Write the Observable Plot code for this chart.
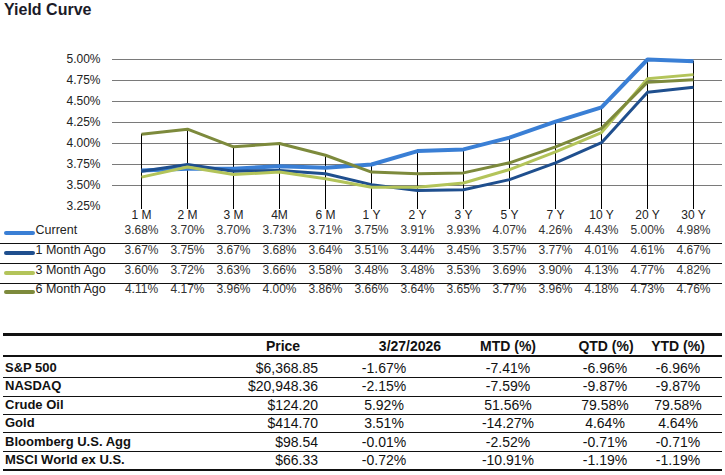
<!DOCTYPE html>
<html>
<head>
<meta charset="utf-8">
<script src="https://cdn.jsdelivr.net/npm/d3@7"></script>
<script src="https://cdn.jsdelivr.net/npm/@observablehq/plot@0.6"></script>
<style>
  html, body { margin: 0; padding: 0; background: #fff; }
  body { width: 725px; height: 475px; position: relative; overflow: hidden; font-family: "Liberation Sans", Arial, sans-serif; color: #111; }
  #title { position: absolute; left: 4px; top: 1px; font-size: 16px; font-weight: bold; color: #1b1b28; }
  #chart { position: absolute; left: 0; top: 0; }
  .hline { position: absolute; background: #111; }
  .swatch { position: absolute; height: 4px; border-radius: 2px; }
  .cell { position: absolute; font-size: 14px; white-space: nowrap; line-height: 16px; }
  .b { font-weight: bold; }
  .name { font-size: 13px; }
</style>
</head>
<body>
<div id="title">Yield Curve</div>
<div id="chart"></div>
<div id="overlay"></div>
<script>
// ---- Yield curve data ----
const tenors = ["1 M", "2 M", "3 M", "4M", "6 M", "1 Y", "2 Y", "3 Y", "5 Y", "7 Y", "10 Y", "20 Y", "30 Y"];
const seriesNames = ["Current", "1 Month Ago", "3 Month Ago", "6 Month Ago"];
const current = [3.68, 3.70, 3.70, 3.73, 3.71, 3.75, 3.91, 3.93, 4.07, 4.26, 4.43, 5.00, 4.98];
const oneMonthAgo = [3.67, 3.75, 3.67, 3.68, 3.64, 3.51, 3.44, 3.45, 3.57, 3.77, 4.01, 4.61, 4.67];
const threeMonthAgo = [3.60, 3.72, 3.63, 3.66, 3.58, 3.48, 3.48, 3.53, 3.69, 3.90, 4.13, 4.77, 4.82];
const sixMonthAgo = [4.11, 4.17, 3.96, 4.00, 3.86, 3.66, 3.64, 3.65, 3.77, 3.96, 4.18, 4.73, 4.76];
const yTicks = [3.25, 3.50, 3.75, 4.00, 4.25, 4.50, 4.75, 5.00];

// ---- Market table data ----
const headers = ["", "Price", "3/27/2026", "MTD (%)", "QTD (%)", "YTD (%)"];
const assets = ["S&P 500", "NASDAQ", "Crude Oil", "Gold", "Bloomberg U.S. Agg", "MSCI World ex U.S."];
const prices = ["$6,368.85", "$20,948.36", "$124.20", "$414.70", "$98.54", "$66.33"];
const daily = ["-1.67%", "-2.15%", "5.92%", "3.51%", "-0.01%", "-0.72%"];
const mtd = ["-7.41%", "-7.59%", "51.56%", "-14.27%", "-2.52%", "-10.91%"];
const qtd = ["-6.96%", "-9.87%", "79.58%", "4.64%", "-0.71%", "-1.19%"];
const ytd = ["-6.96%", "-9.87%", "79.58%", "4.64%", "-0.71%", "-1.19%"];

// ---- styling ----
const colors = ["#3a7fd5", "#1f4f8e", "#b3c45a", "#7d8a3c"];
const widths = [4, 3, 3, 3];
const rowDy = [27, 47, 67, 86];

const seriesValues = [current, oneMonthAgo, threeMonthAgo, sixMonthAgo];
const long = seriesNames.map((s, k) => tenors.map((t, i) => ({series: s, tenor: t, value: seriesValues[k][i]})));
const maxes = tenors.map((t, i) => ({tenor: t, max: Math.max(...seriesValues.map(v => v[i]))}));

const marks = [
  Plot.gridY(yTicks.filter(d => d > 3.25), {stroke: "#7a7a7a", strokeOpacity: 1, strokeWidth: 1}),
  Plot.axisY({ticks: yTicks, tickFormat: d => d.toFixed(2) + "%", tickSize: 0, tickPadding: 12, fontSize: 12, fill: "#222", label: null}),
  Plot.axisX({tickSize: 0, tickPadding: 4, fontSize: 12, fill: "#222", label: null}),
  Plot.ruleX(maxes, {x: "tenor", y1: "max", y2: () => yTicks[0], stroke: "#000", strokeWidth: 1, insetBottom: -3}),
  ...seriesNames.map((s, k) => Plot.line(long[k], {x: "tenor", y: "value", stroke: colors[k], strokeWidth: widths[k], strokeLinejoin: "miter", strokeLinecap: "butt"})),
  ...seriesNames.map((s, k) => Plot.text(long[k], {x: "tenor", text: d => d.value.toFixed(2) + "%", frameAnchor: "bottom", dy: rowDy[k], fontSize: 12, fill: "#333"})),
  ...seriesNames.map((s, k) => Plot.text([s], {text: d => d, frameAnchor: "bottom-left", dx: -77, dy: rowDy[k], textAnchor: "start", fontSize: 12.5, fill: "#222"}))
];

const chart = Plot.plot({
  width: 725, height: 300,
  marginTop: 59, marginBottom: 94, marginLeft: 112, marginRight: 3,
  style: {fontFamily: "'Liberation Sans', Arial, sans-serif", fontSize: "12px", color: "#222", background: "transparent", overflow: "visible"},
  x: {type: "point", domain: tenors, padding: 0.5},
  y: {domain: [yTicks[0], yTicks[yTicks.length - 1]]},
  marks
});
document.getElementById("chart").appendChild(chart);

// ---- overlays: legend swatches, row separators, market table ----
const ov = document.getElementById("overlay");
function hline(top, left, width, h) {
  const d = document.createElement("div");
  d.className = "hline";
  Object.assign(d.style, {top: top + "px", left: left + "px", width: width + "px", height: h + "px"});
  ov.appendChild(d);
}
const rowCenters = rowDy.map(d => 206 + d);
seriesNames.forEach((s, k) => {
  const d = document.createElement("div");
  d.className = "swatch";
  Object.assign(d.style, {top: (rowCenters[k] - 2) + "px", left: "4px", width: "31px", background: colors[k]});
  ov.appendChild(d);
});
[243, 263, 283].forEach(y => hline(y, 0, 722, 1));

// market table
hline(333, 3, 719, 3);
hline(355, 3, 719, 2);
const rowH = 18.4;
const firstRow = 368;
for (let r = 1; r < assets.length; r++) hline(Math.round(firstRow + rowH * r - rowH / 2), 3, 719, 1);
hline(Math.round(firstRow + rowH * (assets.length - 1) + 9), 3, 719, 2);

function cell(text, x, yc, align, cls) {
  const d = document.createElement("div");
  d.className = "cell " + (cls || "");
  d.textContent = text;
  d.style.top = (yc - 8) + "px";
  if (align === "left") d.style.left = x + "px";
  else if (align === "right") { d.style.right = (725 - x) + "px"; }
  else { d.style.left = x + "px"; d.style.transform = "translateX(-50%)"; }
  ov.appendChild(d);
}
const headerY = 346;
const headerX = [0, 283, 410, 508, 606, 678];
headers.forEach((h, i) => { if (h) cell(h, headerX[i], headerY, "center", "b"); });
const cols = [daily, mtd, qtd, ytd];
const colX = [384, 508, 605, 678];
assets.forEach((a, r) => {
  const yc = Math.round(firstRow + rowH * r);
  cell(a, 5, yc, "left", "b name");
  cell(prices[r], 318, yc, "right");
  cols.forEach((c, j) => cell(c[r], colX[j], yc, "center"));
});
</script>
</body>
</html>
